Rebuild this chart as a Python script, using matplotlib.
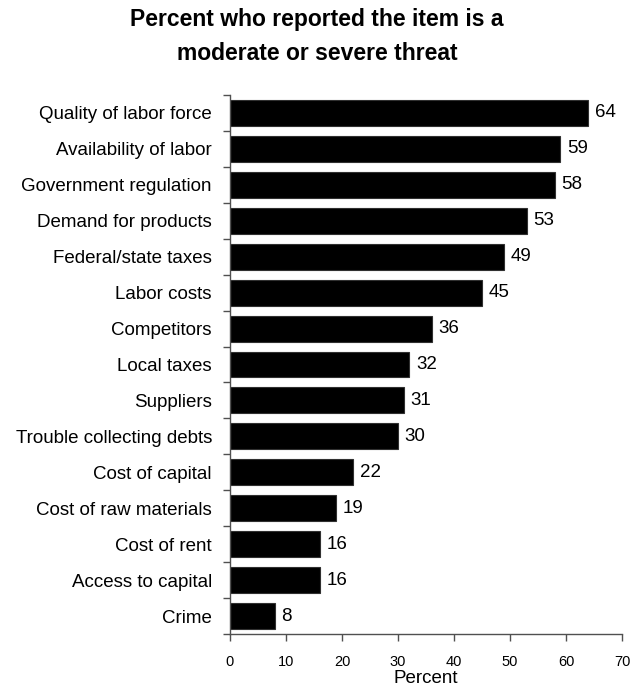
import numpy as np
from matplotlib import pyplot as plt

plt.rcParams['font.family'] = ['Liberation Sans', 'DejaVu Sans']

# Survey items and percent who call them a moderate or severe threat
items = ['Quality of labor force', 'Availability of labor', 'Government regulation',
         'Demand for products', 'Federal/state taxes', 'Labor costs', 'Competitors',
         'Local taxes', 'Suppliers', 'Trouble collecting debts', 'Cost of capital',
         'Cost of raw materials', 'Cost of rent', 'Access to capital', 'Crime']
percents = [64, 59, 58, 53, 49, 45, 36, 32, 31, 30, 22, 19, 16, 16, 8]
x_ticks = [0, 10, 20, 30, 40, 50, 60, 70]
title_lines = ['Percent who reported the item is a', 'moderate or severe threat']

fig = plt.figure(figsize=(6.3, 6.92), dpi=100)
ax = fig.add_axes([230 / 630, 1 - 634 / 692, 392 / 630, 539 / 692])

pos = np.arange(len(items))
ax.barh(pos, percents, height=0.72, color='black', edgecolor='#303030', linewidth=0.8)

for p, v in zip(pos, percents):
    ax.text(v + 1.2, p, str(v), va='center', ha='left', fontsize=13.5)

ax.set_xlim(0, 70)
ax.set_ylim(len(items) - 0.5, -0.5)

# boundary ticks on the category axis, labels sit in between
ax.set_yticks(np.arange(len(items) + 1) - 0.5)
ax.set_yticklabels([])
ax.set_yticks(pos, minor=True)
ax.set_yticklabels(items, minor=True, fontsize=13.5)
ax.tick_params(axis='y', which='major', length=5, width=1, color='#505050', direction='out')
ax.tick_params(axis='y', which='minor', length=0, pad=13)

ax.set_xticks(x_ticks)
ax.set_xticklabels([str(t) for t in x_ticks], fontsize=10.5)
ax.tick_params(axis='x', length=5, width=1, color='#505050', pad=10)
ax.set_xlabel('Percent', fontsize=13.5, labelpad=1)

for side in ['top', 'right']:
    ax.spines[side].set_visible(False)
for side in ['left', 'bottom']:
    ax.spines[side].set_color('#505050')
    ax.spines[side].set_linewidth(1)

# two title lines placed on their baselines
fig.text(317 / 630, 1 - 26 / 692, title_lines[0], ha='center', va='baseline',
         fontsize=16.5, fontweight='bold')
fig.text(317 / 630, 1 - 60 / 692, title_lines[1], ha='center', va='baseline',
         fontsize=16.5, fontweight='bold')

plt.savefig('out.png', dpi=100)
